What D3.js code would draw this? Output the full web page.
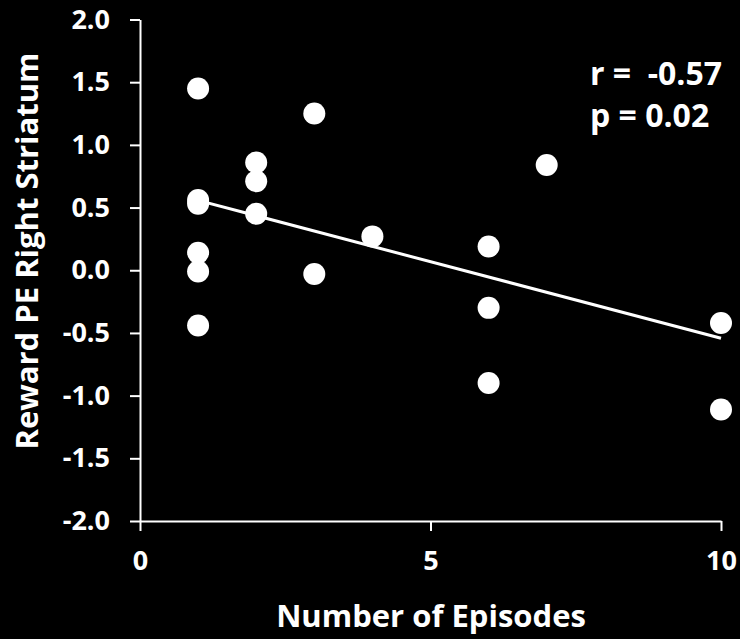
<!DOCTYPE html>
<html>
<head>
<meta charset="utf-8">
<script src="https://cdn.jsdelivr.net/npm/d3@7"></script>
<style>
  body { margin: 0; background: #000; }
  svg { display: block; }
  text { font-family: "Open Sans", Lato, sans-serif; font-weight: bold; fill: #fff; }
</style>
</head>
<body>
<div id="chart"></div>
<script>
// number of episodes (x) and reward PE in right striatum (y)
var episodes = [1, 1, 1, 1, 1, 1, 2, 2, 2, 3, 3, 4, 6, 6, 6, 7, 10, 10];
var rewardPE = [1.45, 0.56, 0.53, 0.14, -0.01, -0.44, 0.86, 0.71, 0.45, 1.25, -0.03, 0.27, 0.19, -0.30, -0.90, 0.84, -0.42, -1.11];

var xTicks = [0, 5, 10];
var yTicks = [-2, -1.5, -1, -0.5, 0, 0.5, 1, 1.5, 2];
var statLines = ['r =  -0.57', 'p = 0.02'];

var width = 740;
var height = 639;

var svg = d3.select('#chart')
  .append('svg')
  .attr('width', width)
  .attr('height', height);

//plot area in pixels
var x = d3.scaleLinear().domain([0, 10]).range([140, 721]);
var y = d3.scaleLinear().domain([-2, 2]).range([521, 19.5]);

//y axis, plain hyphen for the minus like the original
var yAxis = d3.axisLeft(y)
  .tickValues(yTicks)
  .tickFormat(function(d) { return d.toFixed(1); })
  .tickSize(10)
  .tickSizeOuter(0)
  .tickPadding(20);

var gy = svg.append('g')
  .attr('transform', 'translate(' + x(0) + ',0)')
  .call(yAxis);

//x axis
var xAxis = d3.axisBottom(x)
  .tickValues(xTicks)
  .tickFormat(d3.format('d'))
  .tickSize(10)
  .tickSizeOuter(0)
  .tickPadding(20);

var gx = svg.append('g')
  .attr('transform', 'translate(0,' + y(-2) + ')')
  .call(xAxis);

[gx, gy].forEach(function(g) {
  g.attr('font-size', null).attr('font-family', null);
  g.selectAll('path, line').attr('stroke', '#fff').attr('stroke-width', 2);
  g.selectAll('text')
    .style('font-size', '27px')
    .attr('fill', '#fff');
});

//least squares fit line through the points
var mx = d3.mean(episodes);
var my = d3.mean(rewardPE);
var sxy = d3.sum(episodes, function(d, i) { return (d - mx) * (rewardPE[i] - my); });
var sxx = d3.sum(episodes, function(d) { return (d - mx) * (d - mx); });
var slope = sxy / sxx;
var intercept = my - slope * mx;
var xMin = d3.min(episodes);
var xMax = d3.max(episodes);

svg.append('line')
  .attr('x1', x(xMin))
  .attr('y1', y(intercept + slope * xMin))
  .attr('x2', x(xMax))
  .attr('y2', y(intercept + slope * xMax))
  .attr('stroke', '#fff')
  .attr('stroke-width', 3);

//points
svg.selectAll('circle')
  .data(episodes)
  .enter()
  .append('circle')
  .attr('cx', function(d) { return x(d); })
  .attr('cy', function(d, i) { return y(rewardPE[i]); })
  .attr('r', 11)
  .attr('fill', '#fff');

//stats
svg.selectAll('.stat')
  .data(statLines)
  .enter()
  .append('text')
  .attr('class', 'stat')
  .attr('x', 590)
  .attr('y', function(d, i) { return 85 + i * 42; })
  .style('font-size', '32px')
  .style('white-space', 'pre')
  .text(function(d) { return d; });

//axis titles
svg.append('text')
  .attr('x', 431)
  .attr('y', 627)
  .attr('text-anchor', 'middle')
  .style('font-size', '31px')
  .text('Number of Episodes');

svg.append('text')
  .attr('transform', 'translate(38,251) rotate(-90)')
  .attr('text-anchor', 'middle')
  .style('font-size', '31px')
  .text('Reward PE Right Striatum');
</script>
</body>
</html>
